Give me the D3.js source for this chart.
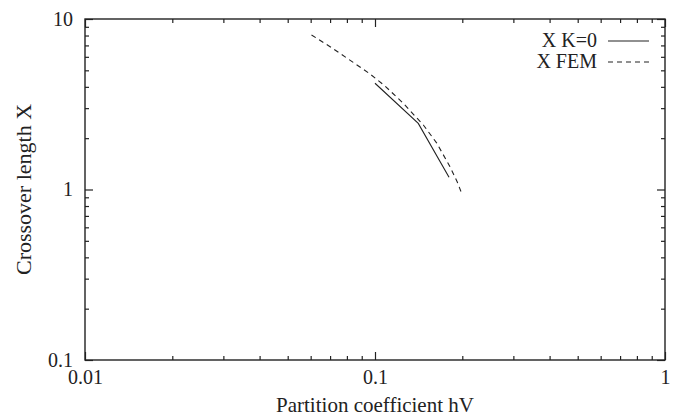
<!DOCTYPE html>
<html>
<head>
<meta charset="utf-8">
<script src="https://cdn.jsdelivr.net/npm/d3@7"></script>
<style>
  body { margin: 0; background: #fff; }
  text { font-family: "Liberation Serif", "DejaVu Serif", serif; fill: #222; }
</style>
</head>
<body>
<div id="chart"></div>
<script>
// Data
const hvK0 = [0.1, 0.141, 0.18];
const xK0 = [4.20, 2.44, 1.18];

const hvFem = [0.0604, 0.070, 0.0841, 0.0961, 0.1082, 0.1252, 0.1468, 0.1633, 0.1814, 0.192, 0.199];
const xFem = [8.06, 6.88, 5.57, 4.76, 4.05, 3.20, 2.39, 1.87, 1.36, 1.11, 0.95];

const xTicks = [0.01, 0.1, 1];
const yTicks = [0.1, 1, 10];
const seriesNames = ["X K=0", "X FEM"];

const W = 674, H = 418;
const margin = {top: 19, right: 9, bottom: 58, left: 85},
      width = W - margin.left - margin.right,
      height = H - margin.top - margin.bottom;

const svg = d3.select("#chart").append("svg")
    .attr("width", W)
    .attr("height", H)
    .append("g")
    .attr("transform", `translate(${margin.left}, ${margin.top})`);

const x = d3.scaleLog().domain([0.01, 1]).range([0, width]);
const y = d3.scaleLog().domain([0.1, 10]).range([height, 0]);

// minor ticks 2..9 in each decade
function minors(domain) {
    const out = [];
    for (let e = Math.log10(domain[0]); e < Math.log10(domain[1]); e++) {
        for (let k = 2; k <= 9; k++) out.push(k * Math.pow(10, e));
    }
    return out;
}

function styleAxis(g) {
    g.select(".domain").remove();
    g.selectAll("line").attr("stroke", "#222").attr("stroke-width", 1.2);
    g.selectAll("text").style("font-size", "20px").attr("fill", "#222");
}

const fmt = d => String(+d.toPrecision(1));

// bottom + top
svg.append("g").attr("transform", `translate(0, ${height})`)
    .call(d3.axisBottom(x).tickValues(xTicks).tickFormat(fmt).tickSizeInner(-8).tickSizeOuter(0).tickPadding(10))
    .call(styleAxis);
svg.append("g").attr("transform", `translate(0, ${height})`)
    .call(d3.axisBottom(x).tickValues(minors(x.domain())).tickFormat("").tickSizeInner(-4).tickSizeOuter(0))
    .call(styleAxis);
svg.append("g")
    .call(d3.axisTop(x).tickValues(xTicks).tickFormat("").tickSizeInner(-8).tickSizeOuter(0))
    .call(styleAxis);
svg.append("g")
    .call(d3.axisTop(x).tickValues(minors(x.domain())).tickFormat("").tickSizeInner(-4).tickSizeOuter(0))
    .call(styleAxis);

// left + right
svg.append("g")
    .call(d3.axisLeft(y).tickValues(yTicks).tickFormat(fmt).tickSizeInner(-8).tickSizeOuter(0).tickPadding(12))
    .call(styleAxis);
svg.append("g")
    .call(d3.axisLeft(y).tickValues(minors(y.domain())).tickFormat("").tickSizeInner(-4).tickSizeOuter(0))
    .call(styleAxis);
svg.append("g").attr("transform", `translate(${width}, 0)`)
    .call(d3.axisRight(y).tickValues(yTicks).tickFormat("").tickSizeInner(-8).tickSizeOuter(0))
    .call(styleAxis);
svg.append("g").attr("transform", `translate(${width}, 0)`)
    .call(d3.axisRight(y).tickValues(minors(y.domain())).tickFormat("").tickSizeInner(-4).tickSizeOuter(0))
    .call(styleAxis);

// frame
svg.append("rect")
    .attr("width", width)
    .attr("height", height)
    .attr("fill", "none")
    .attr("stroke", "#222")
    .attr("stroke-width", 1.4);

// axis labels
svg.append("text")
    .attr("text-anchor", "middle")
    .attr("x", width / 2)
    .attr("y", H - margin.top - 6)
    .style("font-size", "21px")
    .text("Partition coefficient hV");

svg.append("text")
    .attr("transform", "rotate(-90)")
    .attr("x", -height / 2)
    .attr("y", -margin.left + 31)
    .attr("text-anchor", "middle")
    .style("font-size", "22px")
    .text("Crossover length X");

// curves
const line = d3.line().x(d => x(d[0])).y(d => y(d[1]));

svg.append("path")
    .datum(hvFem.map((v, i) => [v, xFem[i]]))
    .attr("d", line)
    .attr("fill", "none")
    .attr("stroke", "#222")
    .attr("stroke-width", 1.1)
    .attr("stroke-dasharray", "5,4");

svg.append("path")
    .datum(hvK0.map((v, i) => [v, xK0[i]]))
    .attr("d", line)
    .attr("fill", "none")
    .attr("stroke", "#222")
    .attr("stroke-width", 1.1);

// legend
const legend = svg.append("g").attr("transform", `translate(${width}, 0)`);
seriesNames.forEach((name, i) => {
    const yy = 28 + i * 21;
    legend.append("text")
        .attr("x", -68)
        .attr("y", yy)
        .attr("text-anchor", "end")
        .style("font-size", "20px")
        .text(name);
    legend.append("line")
        .attr("x1", -57).attr("x2", -16)
        .attr("y1", yy - 6).attr("y2", yy - 6)
        .attr("stroke", "#222")
        .attr("stroke-width", 1.1)
        .attr("stroke-dasharray", i === 1 ? "5,4" : null);
});
</script>
</body>
</html>
